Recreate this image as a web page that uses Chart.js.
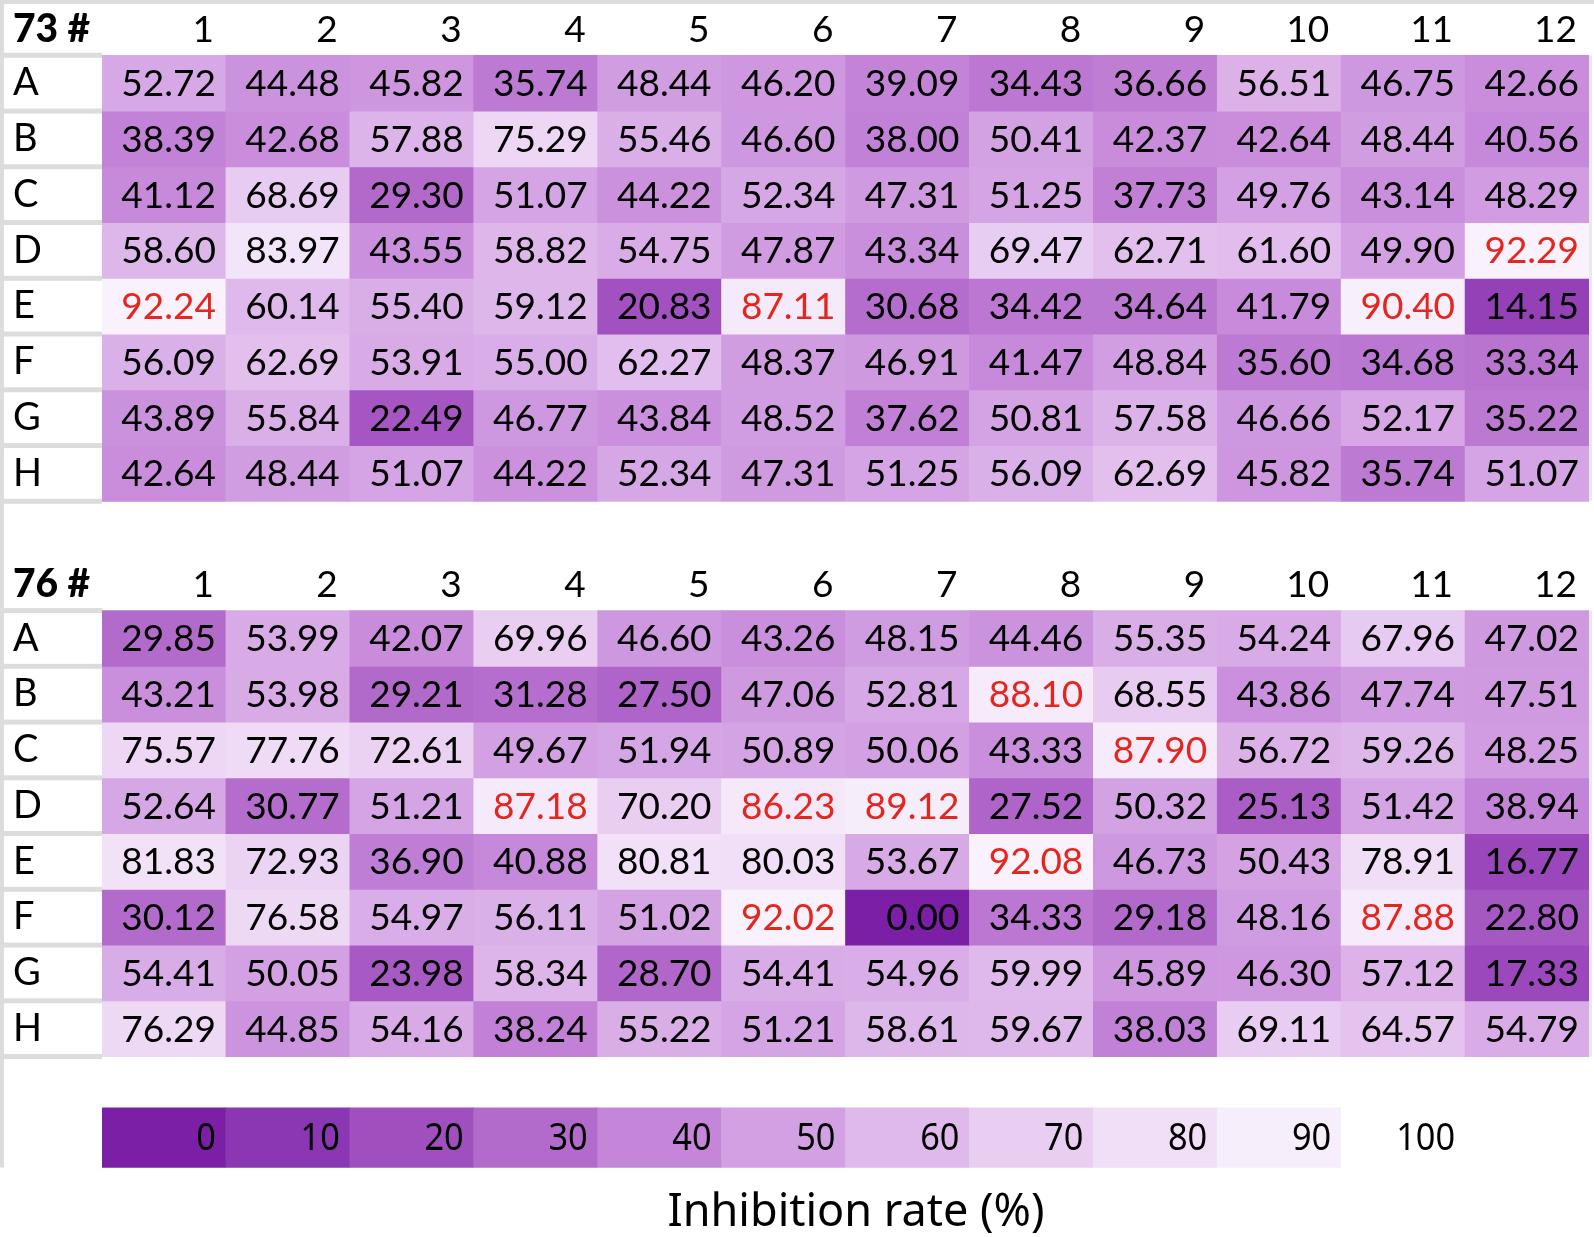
<!DOCTYPE html>
<html>
<head>
<meta charset="utf-8">
<title>Inhibition rate</title>
<script src="https://cdn.jsdelivr.net/npm/chart.js@4.4.1/dist/chart.umd.min.js"></script>
<style>
    html, body { margin: 0; padding: 0; background: #fff; }
    #wrap { width: 1594px; height: 1237px; position: relative; }
</style>
</head>
<body>
<div id="wrap"><canvas id="plate-chart" width="1594" height="1237"></canvas></div>
<script>
var columns = ['1', '2', '3', '4', '5', '6', '7', '8', '9', '10', '11', '12'];
var rows = ['A', 'B', 'C', 'D', 'E', 'F', 'G', 'H'];
var plate_names = ['73 #', '76 #'];

var plate73 = [
    [52.72, 44.48, 45.82, 35.74, 48.44, 46.20, 39.09, 34.43, 36.66, 56.51, 46.75, 42.66],
    [38.39, 42.68, 57.88, 75.29, 55.46, 46.60, 38.00, 50.41, 42.37, 42.64, 48.44, 40.56],
    [41.12, 68.69, 29.30, 51.07, 44.22, 52.34, 47.31, 51.25, 37.73, 49.76, 43.14, 48.29],
    [58.60, 83.97, 43.55, 58.82, 54.75, 47.87, 43.34, 69.47, 62.71, 61.60, 49.90, 92.29],
    [92.24, 60.14, 55.40, 59.12, 20.83, 87.11, 30.68, 34.42, 34.64, 41.79, 90.40, 14.15],
    [56.09, 62.69, 53.91, 55.00, 62.27, 48.37, 46.91, 41.47, 48.84, 35.60, 34.68, 33.34],
    [43.89, 55.84, 22.49, 46.77, 43.84, 48.52, 37.62, 50.81, 57.58, 46.66, 52.17, 35.22],
    [42.64, 48.44, 51.07, 44.22, 52.34, 47.31, 51.25, 56.09, 62.69, 45.82, 35.74, 51.07]
];

var plate76 = [
    [29.85, 53.99, 42.07, 69.96, 46.60, 43.26, 48.15, 44.46, 55.35, 54.24, 67.96, 47.02],
    [43.21, 53.98, 29.21, 31.28, 27.50, 47.06, 52.81, 88.10, 68.55, 43.86, 47.74, 47.51],
    [75.57, 77.76, 72.61, 49.67, 51.94, 50.89, 50.06, 43.33, 87.90, 56.72, 59.26, 48.25],
    [52.64, 30.77, 51.21, 87.18, 70.20, 86.23, 89.12, 27.52, 50.32, 25.13, 51.42, 38.94],
    [81.83, 72.93, 36.90, 40.88, 80.81, 80.03, 53.67, 92.08, 46.73, 50.43, 78.91, 16.77],
    [30.12, 76.58, 54.97, 56.11, 51.02, 92.02, 0.00, 34.33, 29.18, 48.16, 87.88, 22.80],
    [54.41, 50.05, 23.98, 58.34, 28.70, 54.41, 54.96, 59.99, 45.89, 46.30, 57.12, 17.33],
    [76.29, 44.85, 54.16, 38.24, 55.22, 51.21, 58.61, 59.67, 38.03, 69.11, 64.57, 54.79]
];

var scale_ticks = [0, 10, 20, 30, 40, 50, 60, 70, 80, 90, 100];
var scale_colors = ['#7B1FA6', '#8B36B2', '#A04FBF', '#B36BCB', '#C586D9', '#D3A1E3',
                    '#DFB9EB', '#E9CEF2', '#F1DFF7', '#F7EEFB', '#FFFFFF'];
var axis_title = 'Inhibition rate (%)';
var red_above = 85;

// layout, in row units of the y scale
var ROW_PX = 55.75;
var TOP_PX = 55.3;
var PLATE_OFFSET = [0, 9.96];
var HEADER_SHIFT = 0.47;
var LEGEND_TOP = 18.88;
var LEGEND_BOTTOM = 19.95;

var CELL_FONT = '"Lato", "Noto Sans", sans-serif';
var SCALE_FONT = '"Noto Sans", "Open Sans", sans-serif';
var GRAY = '#DCDCDC';

function hexToRgb(h) {
    return [parseInt(h.substr(1, 2), 16), parseInt(h.substr(3, 2), 16), parseInt(h.substr(5, 2), 16)];
}

function colorFor(v) {
    var i = Math.min(Math.floor(v / 10), scale_ticks.length - 2);
    var t = (v - scale_ticks[i]) / (scale_ticks[i + 1] - scale_ticks[i]);
    var a = hexToRgb(scale_colors[i]), b = hexToRgb(scale_colors[i + 1]);
    var c = a.map(function (x, k) { return Math.round(x + (b[k] - x) * t); });
    return 'rgb(' + c.join(',') + ')';
}

var plates = [plate73, plate76];
var datasets = [];
var tick_defs = [];

plates.forEach(function (plate, p) {
    var off = PLATE_OFFSET[p];
    tick_defs.push({ value: off - HEADER_SHIFT, label: plate_names[p], bold: true });
    plate.forEach(function (row_values, r) {
        tick_defs.push({ value: off + r + 0.5, label: rows[r], bold: false });
        datasets.push({
            label: plate_names[p] + ' ' + rows[r],
            kind: 'cell',
            values: row_values,
            data: row_values.map(function () { return [off + r, off + r + 1]; }),
            backgroundColor: row_values.map(colorFor)
        });
    });
});

datasets.push({
    label: 'scale',
    kind: 'scale',
    values: scale_ticks,
    data: scale_ticks.map(function () { return [LEGEND_TOP, LEGEND_BOTTOM]; }),
    backgroundColor: scale_ticks.map(colorFor)
});

var backgroundPlugin = {
    id: 'plateBackground',
    beforeDraw: function (chart) {
        var ctx = chart.ctx;
        var y = chart.scales.y;
        ctx.save();
        ctx.fillStyle = '#FFFFFF';
        ctx.fillRect(0, 0, chart.width, chart.height);
        ctx.fillStyle = GRAY;
        ctx.fillRect(0, 0, chart.width, 4);
        ctx.fillRect(0, 0, 4, y.getPixelForValue(LEGEND_BOTTOM));
        PLATE_OFFSET.forEach(function (off) {
            for (var r = 0; r <= rows.length; r++) {
                var py = y.getPixelForValue(off + r);
                ctx.fillRect(4, py - 2.5, chart.chartArea.left - 4, 5);
            }
            var top = y.getPixelForValue(off);
            var bottom = y.getPixelForValue(off + rows.length);
            ctx.fillStyle = '#E9E9E9';
            ctx.fillRect(chart.chartArea.right, top, 3, bottom - top);
            ctx.fillStyle = GRAY;
        });
        ctx.restore();
    }
};

var textPlugin = {
    id: 'plateText',
    afterDatasetsDraw: function (chart) {
        var ctx = chart.ctx;
        var xs = chart.scales.x, ys = chart.scales.y;
        ctx.save();
        ctx.textAlign = 'right';
        ctx.textBaseline = 'middle';
        chart.data.datasets.forEach(function (ds, di) {
            var meta = chart.getDatasetMeta(di);
            meta.data.forEach(function (el, i) {
                var v = ds.values[i];
                var right = el.x + el.width / 2 - 10;
                var mid = (el.y + el.base) / 2;
                if (ds.kind === 'cell') {
                    ctx.font = '37px ' + CELL_FONT;
                    ctx.fillStyle = v > red_above ? '#E3261E' : '#000000';
                    ctx.fillText(v.toFixed(2), right, mid + 1);
                } else {
                    // legend numbers are a narrower face
                    ctx.save();
                    ctx.translate(right, mid + 1);
                    ctx.scale(0.88, 1);
                    ctx.font = '39px ' + SCALE_FONT;
                    ctx.fillStyle = '#000000';
                    ctx.fillText(String(v), 0, 0);
                    ctx.restore();
                }
            });
        });
        // column numbers above each plate
        var colW = xs.getPixelForValue(1) - xs.getPixelForValue(0);
        ctx.font = '37px ' + CELL_FONT;
        ctx.fillStyle = '#000000';
        PLATE_OFFSET.forEach(function (off) {
            var py = ys.getPixelForValue(off - HEADER_SHIFT);
            columns.forEach(function (c, i) {
                ctx.fillText(c, xs.getPixelForValue(i) + colW / 2 - 12, py + 1);
            });
        });
        ctx.textAlign = 'center';
        ctx.font = '45px ' + SCALE_FONT;
        ctx.fillText(axis_title, 856, 1213);
        ctx.restore();
    }
};

var ctx = document.getElementById('plate-chart');
var PlateChart = new Chart(ctx, {
    type: 'bar',
    data: {
        labels: columns,
        datasets: datasets
    },
    plugins: [backgroundPlugin, textPlugin],
    options: {
        responsive: false,
        maintainAspectRatio: false,
        animation: false,
        devicePixelRatio: 1,
        layout: {
            padding: { left: 13, right: 5, top: 0, bottom: 0 }
        },
        datasets: {
            bar: {
                grouped: false,
                barPercentage: 1,
                categoryPercentage: 1,
                borderWidth: 0,
                borderSkipped: false
            }
        },
        plugins: {
            legend: { display: false },
            tooltip: { enabled: false },
            title: { display: false }
        },
        scales: {
            x: {
                type: 'category',
                display: false
            },
            y: {
                type: 'linear',
                reverse: true,
                min: -TOP_PX / ROW_PX,
                max: (1237 - TOP_PX) / ROW_PX,
                grid: { display: false },
                border: { display: false },
                afterBuildTicks: function (scale) {
                    scale.ticks = tick_defs.map(function (t) { return { value: t.value }; });
                },
                afterFit: function (scale) {
                    scale.width = 89;
                    scale.paddingTop = 0;
                    scale.paddingBottom = 0;
                },
                ticks: {
                    autoSkip: false,
                    crossAlign: 'far',
                    padding: 0,
                    color: '#000000',
                    callback: function (value, index) {
                        return tick_defs[index].label;
                    },
                    font: function (c) {
                        var bold = tick_defs[c.index] && tick_defs[c.index].bold;
                        return { family: CELL_FONT, size: bold ? 39 : 38, weight: bold ? '900' : 'normal' };
                    }
                }
            }
        }
    }
});
</script>
</body>
</html>
